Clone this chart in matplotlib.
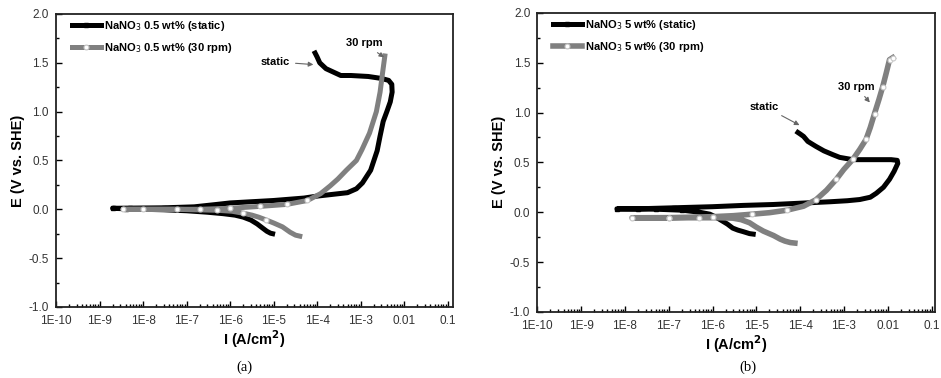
import numpy as np
import matplotlib
matplotlib.use("Agg")
from matplotlib import pyplot as plt
from matplotlib.ticker import FixedLocator, LogLocator, NullFormatter, MultipleLocator

plt.rcParams['font.family'] = ['Liberation Sans', 'DejaVu Sans']

# x tick labels (decades)
tick_vals = [1e-10, 1e-9, 1e-8, 1e-7, 1e-6, 1e-5, 1e-4, 1e-3, 1e-2, 1e-1]
tick_labels = ['1E-10', '1E-9', '1E-8', '1E-7', '1E-6', '1E-5', '1E-4', '1E-3', '0.01', '0.1']
y_ticks = [-1.0, -0.5, 0.0, 0.5, 1.0, 1.5, 2.0]

# (a) NaNO3 0.5 wt% static
i_a_static = [9.5e-6, 8.5e-6, 7e-6, 5.5e-6, 4.2e-6, 3e-6, 2e-6, 1.3e-6, 7e-7, 3e-7, 1e-7, 3e-8, 1e-8, 4e-9, 2e-9,
              5e-9, 3e-8, 1.5e-7, 5e-7, 1e-6, 1e-5, 5e-5, 1e-4, 2e-4, 5e-4, 8e-4, 1.1e-3, 1.7e-3, 2.4e-3, 2.8e-3,
              3.3e-3, 4e-3, 4.8e-3, 5.3e-3, 5.2e-3, 4.4e-3, 3e-3, 1.5e-3, 6e-4, 3.5e-4, 2.5e-4, 1.6e-4, 1.15e-4,
              1e-4, 9e-5]
e_a_static = [-0.25, -0.245, -0.225, -0.19, -0.15, -0.11, -0.08, -0.06, -0.045, -0.03, -0.015, -0.005, 0.0, 0.005, 0.01,
              0.012, 0.015, 0.025, 0.05, 0.065, 0.09, 0.115, 0.135, 0.15, 0.17, 0.21, 0.27, 0.4, 0.6, 0.75,
              0.9, 1.0, 1.1, 1.2, 1.28, 1.32, 1.34, 1.36, 1.37, 1.37, 1.4, 1.44, 1.5,
              1.56, 1.6]

# (a) NaNO3 0.5 wt% 30 rpm
i_a_rpm = [4e-5, 3.2e-5, 2.4e-5, 1.6e-5, 1e-5, 6.8e-6, 4.5e-6, 3.2e-6, 2e-6, 1.1e-6, 5e-7, 1.5e-7, 6e-8, 1e-8, 3.5e-9,
           1e-8, 2e-7, 1e-6, 5e-6, 2e-5, 6e-5, 1.2e-4, 2e-4, 3e-4, 4.7e-4, 8e-4, 1.07e-3, 1.6e-3, 2.3e-3, 2.8e-3,
           3.2e-3, 3.6e-3]
e_a_rpm = [-0.275, -0.265, -0.235, -0.18, -0.14, -0.11, -0.08, -0.06, -0.04, -0.02, -0.01, -0.005, 0.0, 0.0, 0.0,
           0.0, 0.0, 0.01, 0.03, 0.05, 0.09, 0.16, 0.24, 0.31, 0.4, 0.5, 0.61, 0.78, 1.0, 1.2,
           1.4, 1.57]

# (b) NaNO3 5 wt% static
i_b_static = [8.5e-6, 7e-6, 5e-6, 3.8e-6, 2.9e-6, 2.2e-6, 1.7e-6, 1.2e-6, 8.7e-7, 5e-7, 2e-7, 5e-8, 6.6e-9,
              2e-8, 1.3e-7, 1e-6, 5e-6, 2.4e-5, 1e-4, 5e-4, 1.2e-3, 2.3e-3, 4e-3, 5.5e-3, 8e-3, 1.1e-2, 1.4e-2,
              1.7e-2, 1.65e-2, 1.2e-2, 6e-3, 3e-3, 1.6e-3, 8e-4, 5.6e-4, 3.5e-4, 2.3e-4, 1.5e-4, 1.2e-4, 1e-4, 8.9e-5]
e_b_static = [-0.22, -0.215, -0.195, -0.18, -0.16, -0.12, -0.09, -0.05, -0.02, 0.0, 0.02, 0.03, 0.033,
              0.034, 0.044, 0.055, 0.068, 0.077, 0.09, 0.105, 0.115, 0.127, 0.15, 0.19, 0.25, 0.33, 0.41,
              0.49, 0.52, 0.527, 0.527, 0.527, 0.527, 0.55, 0.577, 0.615, 0.66, 0.71, 0.76, 0.785, 0.8]

# (b) NaNO3 5 wt% 30 rpm
i_b_rpm = [7.6e-5, 6e-5, 4.5e-5, 3.5e-5, 2.5e-5, 1.45e-5, 1e-5, 7e-6, 4.5e-6, 2.9e-6, 1.5e-6, 5e-7, 1e-7, 1.45e-8,
           1e-7, 1e-6, 3e-6, 8e-6, 2e-5, 5e-5, 1.2e-4, 2.3e-4, 4e-4, 6.7e-4, 1e-3, 1.6e-3, 2.3e-3, 3.2e-3,
           4e-3, 5e-3, 6.3e-3, 7.7e-3, 9.3e-3, 1.1e-2, 1.3e-2]
e_b_rpm = [-0.31, -0.305, -0.29, -0.27, -0.235, -0.19, -0.15, -0.106, -0.075, -0.06, -0.056, -0.056, -0.056, -0.056,
           -0.055, -0.045, -0.035, -0.02, -0.005, 0.02, 0.06, 0.125, 0.22, 0.33, 0.43, 0.53, 0.63, 0.73,
           0.85, 0.99, 1.13, 1.26, 1.4, 1.53, 1.55]

fig = plt.figure(figsize=(9.41, 3.78), dpi=100)
ax_a = fig.add_axes([0.0595, 0.188, 0.4215, 0.775])
ax_b = fig.add_axes([0.571, 0.175, 0.4226, 0.791])

gray = '#808080'
arrow = dict(arrowstyle='-|>', color='#666666', lw=0.8, mutation_scale=7)
leg_kw = dict(loc='upper left', bbox_to_anchor=(0.02, 1.01), frameon=False, numpoints=1,
              handlelength=2.6, handletextpad=0.3, labelspacing=0.75, borderaxespad=0.3,
              prop={'size': 8, 'weight': 'bold'})


def style_axes(ax, xmax):
    ax.set_xscale('log')
    ax.set_xlim(1e-10, xmax)
    ax.set_ylim(-1.0, 2.0)
    ax.xaxis.set_major_locator(FixedLocator(tick_vals))
    ax.set_xticklabels(tick_labels)
    ax.xaxis.set_minor_locator(LogLocator(base=10, subs=np.arange(2, 10), numticks=20))
    ax.xaxis.set_minor_formatter(NullFormatter())
    ax.set_yticks(y_ticks)
    ax.set_yticklabels(['%.1f' % v for v in y_ticks])
    ax.yaxis.set_minor_locator(MultipleLocator(0.25))
    ax.tick_params(which='both', direction='in', top=False, right=False,
                   labelsize=8.5, labelcolor='#333333', width=1.0)
    ax.tick_params(axis='x', which='major', pad=6)
    ax.tick_params(axis='y', which='major', pad=5)
    ax.tick_params(which='major', length=4)
    ax.tick_params(which='minor', length=2.5)
    for sp in ax.spines.values():
        sp.set_linewidth(1.3)
        sp.set_color('#222222')
    ax.set_xlabel('I (A/cm$^\\mathbf{2}$)', fontsize=10.5, fontweight='bold', labelpad=1)
    ax.set_ylabel('E (V vs. SHE)', fontsize=10.5, fontweight='bold', labelpad=3)


# panel (a)
ax_a.plot(i_a_static, e_a_static, color='black', lw=3.6, marker='s', ms=3, markevery=[13, 14, 15, 16],
          mfc='black', mec='black', label='NaNO$_3$ 0.5 wt% (static)')
ax_a.plot(i_a_rpm, e_a_rpm, color=gray, lw=3.6, marker='o', ms=3.5, mfc='white', mec='#c8c8c8', mew=0.8,
          markevery=[5, 8, 10, 12, 13, 14, 16, 17, 18, 19, 20], label='NaNO$_3$ 0.5 wt% (30 rpm)')
style_axes(ax_a, 0.13)
ax_a.annotate('static', xy=(9.5e-5, 1.48), xytext=(1.1e-5, 1.51), fontsize=8, fontweight='bold',
              ha='center', va='center', arrowprops=arrow)
ax_a.annotate('30 rpm', xy=(3.9e-3, 1.54), xytext=(1.2e-3, 1.70), fontsize=8, fontweight='bold',
              ha='center', va='center', arrowprops=arrow)
ax_a.legend(**leg_kw)

# panel (b)
ax_b.plot(i_b_static, e_b_static, color='black', lw=3.6, marker='s', ms=3, markevery=[10, 11, 12, 13, 14],
          mfc='black', mec='black', label='NaNO$_3$ 5 wt% (static)')
ax_b.plot(i_b_rpm, e_b_rpm, color=gray, lw=4, marker='o', ms=3.5, mfc='white', mec='#c8c8c8', mew=0.8,
          markevery=[11, 12, 13, 14, 15, 17, 19, 21, 23, 25, 27, 29, 31, 33, 34],
          label='NaNO$_3$ 5 wt% (30 rpm)')
style_axes(ax_b, 0.12)
ax_b.annotate('static', xy=(1.1e-4, 0.86), xytext=(1.55e-5, 1.06), fontsize=8, fontweight='bold',
              ha='center', va='center', arrowprops=arrow)
ax_b.annotate('30 rpm', xy=(4.3e-3, 1.08), xytext=(1.9e-3, 1.26), fontsize=8, fontweight='bold',
              ha='center', va='center', arrowprops=arrow)
ax_b.legend(**leg_kw)

fig.text(0.26, 0.029, '(a)', fontsize=10.5, family='Liberation Serif', ha='center', va='center')
fig.text(0.795, 0.029, '(b)', fontsize=10.5, family='Liberation Serif', ha='center', va='center')

fig.savefig('out.png', dpi=100)
